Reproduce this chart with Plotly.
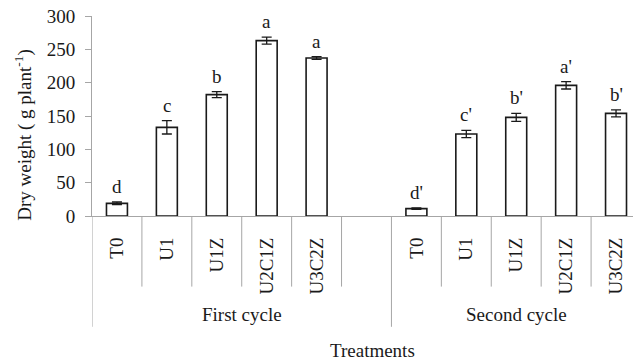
import plotly.graph_objects as go

# ---- data ----
groups = ["First cycle", "Second cycle"]
treatments = ["T0", "U1", "U1Z", "U2C1Z", "U3C2Z"]
first_values = [19, 133, 182, 263, 237]
first_errors = [2, 10, 4.5, 5.3, 2]
first_letters = ["d", "c", "b", "a", "a"]
second_values = [11, 123, 148, 196, 154]
second_errors = [1, 5.5, 6, 5.5, 5.3]
second_letters = ["d'", "c'", "b'", "a'", "b'"]
y_ticks = [0, 50, 100, 150, 200, 250, 300]

FONT = "Liberation Serif"
FS = 19
GRAY = "#a6a6a6"

# slot layout: 5 bars + 1 empty slot for first cycle, 5 bars for second cycle
n = len(treatments)
first_pos = list(range(n))
second_pos = [n + 1 + i for i in range(n)]
positions = first_pos + second_pos
values = first_values + second_values
errors = first_errors + second_errors
letters = first_letters + second_letters
labels = treatments + treatments

fig = go.Figure()
fig.add_trace(go.Bar(
    x=positions, y=values, width=0.42,
    marker=dict(color="white", line=dict(color="#1a1a1a", width=1.6)),
    error_y=dict(type="data", array=errors, visible=True, color="#1a1a1a",
                 thickness=1.3, width=5),
    showlegend=False, hoverinfo="skip",
))

annotations = []
for p, v, e, t in zip(positions, values, errors, letters):
    annotations.append(dict(x=p, y=v + e, text=t, showarrow=False, xref="x", yref="y",
                            yanchor="bottom", yshift=3,
                            font=dict(family=FONT, size=FS, color="#1a1a1a")))

# group labels
group_centers = [(first_pos[0] - 0.5 + first_pos[-1] + 1.5) / 2,
                 (second_pos[0] - 0.5 + second_pos[-1] + 0.5) / 2]
for g, c in zip(groups, group_centers):
    annotations.append(dict(x=c, y=-0.49, text=g, showarrow=False, xref="x", yref="paper",
                            yanchor="middle", font=dict(family=FONT, size=FS, color="#1a1a1a")))

annotations.append(dict(x=0.518, y=-0.67, text="Treatments", showarrow=False,
                        xref="paper", yref="paper", yanchor="middle",
                        font=dict(family=FONT, size=FS, color="#1a1a1a")))
annotations.append(dict(x=-0.128, y=0.405, text="Dry weight ( g plant<sup>-1</sup>)",
                        textangle=-90, showarrow=False, xref="paper", yref="paper",
                        xanchor="center", yanchor="middle",
                        font=dict(family=FONT, size=FS, color="#1a1a1a")))

shapes = []
cat_depth = -0.353
grp_depth = -0.554
# category dividers
for p in first_pos[:-1] + second_pos[:-1]:
    shapes.append(dict(type="line", xref="x", yref="paper", x0=p + 0.5, x1=p + 0.5,
                       y0=0, y1=cat_depth, line=dict(color=GRAY, width=1)))
for p in [first_pos[-1], second_pos[-1]]:
    shapes.append(dict(type="line", xref="x", yref="paper", x0=p + 0.5, x1=p + 0.5,
                       y0=0, y1=cat_depth, line=dict(color=GRAY, width=1)))
# group dividers
for gx in [first_pos[0] - 0.5, first_pos[-1] + 1.5, second_pos[-1] + 0.5]:
    shapes.append(dict(type="line", xref="x", yref="paper", x0=gx, x1=gx,
                       y0=0, y1=grp_depth, line=dict(color=GRAY, width=1)))

fig.update_layout(
    width=633, height=363,
    margin=dict(l=92, r=0, t=16, b=147, pad=0),
    plot_bgcolor="white", paper_bgcolor="white",
    font=dict(family=FONT, size=FS, color="#1a1a1a"),
    annotations=annotations, shapes=shapes,
    xaxis=dict(range=[-0.5, 10.34], tickvals=positions, ticktext=labels, tickangle=-90,
               showline=True, linecolor=GRAY, linewidth=1, showgrid=False, zeroline=False,
               ticks="outside", ticklen=13, tickcolor="rgba(0,0,0,0)",
               tickfont=dict(family=FONT, size=FS, color="#1a1a1a")),
    yaxis=dict(range=[0, 300], tickvals=y_ticks, showline=True, linecolor=GRAY, linewidth=1,
               showgrid=False, zeroline=False, ticks="outside", ticklen=6, tickcolor=GRAY,
               ticklabelstandoff=6,
               tickfont=dict(family=FONT, size=FS, color="#1a1a1a")),
    bargap=0.58,
    hovermode=False,
)

fig.write_html("out.html", config={"displayModeBar": False, "staticPlot": True},
               post_script="document.body.style.margin='0';document.body.style.overflow='hidden';")
